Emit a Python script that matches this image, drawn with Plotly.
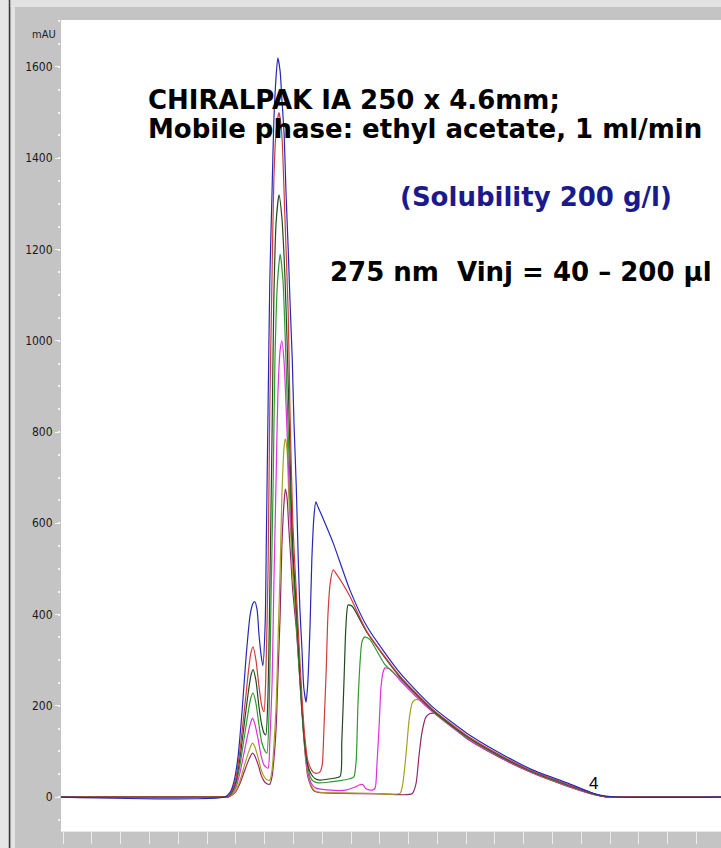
import plotly.graph_objects as go

# ---------------- data (time in min, absorbance in mAU) ----------------
t_blue = [-0.05, 2.81, 2.90, 2.97, 3.04, 3.11, 3.18, 3.25, 3.30, 3.33, 3.37, 3.40, 3.44, 3.47, 3.51, 3.53,
          3.56, 3.59, 3.63, 3.66, 3.70, 3.73, 3.77, 3.80, 3.84, 3.87, 3.91, 3.94, 3.98, 4.01, 4.05, 4.08,
          4.11, 4.15, 4.18, 4.22, 4.25, 4.29, 4.32, 4.36, 4.39, 4.43, 4.55, 4.69, 4.98, 5.28, 5.85, 6.42,
          7.01, 7.59, 8.16, 8.75, 9.15, 9.32, 9.58, 11.5]
a_blue = [0, 0, 10, 35, 90, 190, 310, 400, 425, 428, 410, 360, 310, 288, 380, 560,
          850, 1130, 1330, 1480, 1580, 1620, 1590, 1530, 1450, 1330, 1200, 1090, 960, 820, 680, 540,
          420, 320, 240, 208, 250, 380, 520, 620, 647, 635, 600, 557, 454, 373, 272, 197,
          140, 96, 59, 31, 11, 4, 0, 0]

t_red = [-0.05, 2.81, 2.86, 2.93, 3.00, 3.07, 3.14, 3.21, 3.26, 3.30, 3.35, 3.40, 3.45, 3.49, 3.52, 3.56,
         3.59, 3.63, 3.66, 3.70, 3.75, 3.80, 3.85, 3.91, 3.94, 3.99, 4.05, 4.10, 4.15, 4.20, 4.25, 4.31,
         4.36, 4.41, 4.46, 4.50, 4.53, 4.57, 4.60, 4.64, 4.69, 4.74, 4.98, 5.28, 5.85, 6.42, 7.01, 7.59,
         8.16, 8.75, 9.15, 9.41, 9.67, 11.5]
a_red = [0, 0, 0, 13, 40, 100, 180, 265, 315, 329, 300, 245, 200, 187, 260, 500,
         850, 1150, 1350, 1460, 1500, 1450, 1280, 1060, 850, 600, 450, 330, 215, 130, 80, 60,
         53, 52, 55, 70, 150, 280, 400, 470, 498, 490, 440, 362, 265, 192, 135, 92,
         56, 28, 10, 1, 0, 0]

t_dkgreen = [-0.05, 2.81, 2.86, 2.93, 3.00, 3.07, 3.14, 3.21, 3.26, 3.30, 3.35, 3.40, 3.45, 3.49, 3.52, 3.56,
             3.59, 3.63, 3.66, 3.70, 3.75, 3.80, 3.85, 3.89, 3.94, 3.99, 4.05, 4.10, 4.15, 4.20, 4.25, 4.31,
             4.38, 4.46, 4.64, 4.81, 4.84, 4.88, 4.91, 4.95, 5.02, 5.28, 5.85, 6.42, 7.01, 7.59, 8.16, 8.75,
             9.15, 9.41, 9.67, 11.5]
a_dkgreen = [0, 0, 0, 11, 33, 84, 153, 223, 265, 279, 255, 200, 158, 140, 136, 230,
             450, 800, 1090, 1260, 1320, 1270, 1150, 1000, 760, 540, 420, 300, 195, 115, 70, 50,
             40, 37, 40, 45, 120, 260, 370, 421, 418, 360, 263, 190, 133, 90, 55, 27,
             9, 1, 0, 0]

t_green = [-0.05, 2.81, 2.86, 2.93, 3.00, 3.07, 3.14, 3.21, 3.26, 3.30, 3.35, 3.40, 3.45, 3.51, 3.54, 3.58,
           3.61, 3.65, 3.68, 3.72, 3.77, 3.82, 3.87, 3.92, 3.98, 4.03, 4.08, 4.13, 4.18, 4.24, 4.29, 4.34,
           4.43, 4.64, 4.81, 4.98, 5.05, 5.09, 5.12, 5.16, 5.19, 5.24, 5.33, 5.59, 5.85, 6.42, 7.01, 7.59,
           8.16, 8.75, 9.15, 9.41, 9.67, 11.5]
a_green = [0, 0, 0, 9, 27, 68, 125, 182, 217, 228, 205, 160, 120, 100, 96, 200,
           420, 700, 960, 1120, 1190, 1130, 960, 760, 560, 430, 320, 220, 135, 75, 45, 35,
           31, 33, 36, 40, 44, 80, 200, 300, 340, 351, 345, 290, 260, 188, 131, 89,
           54, 26, 9, 1, 0, 0]

t_magenta = [-0.05, 2.81, 2.86, 2.93, 3.00, 3.07, 3.14, 3.21, 3.26, 3.29, 3.33, 3.39, 3.44, 3.49, 3.56, 3.59,
             3.63, 3.66, 3.70, 3.73, 3.77, 3.80, 3.84, 3.89, 3.94, 3.99, 4.05, 4.10, 4.15, 4.20, 4.25, 4.31,
             4.38, 4.64, 4.90, 5.07, 5.16, 5.21, 5.26, 5.37, 5.42, 5.45, 5.49, 5.52, 5.56, 5.59, 5.68, 5.85,
             6.42, 7.01, 7.59, 8.16, 8.75, 9.15, 9.41, 9.67, 11.5]
a_magenta = [0, 0, 0, 7, 21, 52, 95, 138, 164, 173, 160, 125, 90, 70, 63, 120,
             250, 460, 700, 880, 980, 1000, 950, 800, 640, 520, 410, 300, 195, 110, 55, 30,
             20, 15, 15, 22, 27, 27, 18, 15, 20, 70, 160, 240, 275, 283, 280, 256,
             186, 129, 87, 53, 25, 8, 1, 0, 0]

t_olive = [-0.05, 2.81, 2.86, 2.93, 3.00, 3.07, 3.14, 3.21, 3.26, 3.29, 3.33, 3.39, 3.44, 3.49, 3.54, 3.59,
           3.63, 3.66, 3.70, 3.73, 3.77, 3.80, 3.84, 3.86, 3.89, 3.92, 3.96, 3.99, 4.05, 4.10, 4.15, 4.20,
           4.25, 4.31, 4.36, 4.43, 4.81, 5.33, 5.85, 5.90, 5.96, 6.01, 6.06, 6.11, 6.20, 6.42, 7.01, 7.59,
           8.16, 8.75, 9.15, 9.41, 9.67, 11.5]
a_olive = [0, 0, 0, 5, 14, 35, 65, 94, 112, 118, 110, 85, 60, 45, 38, 37,
           60, 110, 200, 330, 500, 660, 770, 785, 760, 660, 560, 480, 390, 290, 190, 105,
           50, 25, 15, 11, 9, 8, 8, 30, 100, 170, 205, 213, 212, 188, 130, 88,
           53, 25, 8, 1, 0, 0]

t_purple = [-0.05, 2.81, 2.86, 2.93, 3.00, 3.07, 3.14, 3.21, 3.26, 3.29, 3.33, 3.39, 3.44, 3.49, 3.54, 3.59,
            3.63, 3.66, 3.70, 3.73, 3.77, 3.80, 3.84, 3.86, 3.89, 3.92, 3.96, 3.99, 4.05, 4.10, 4.15, 4.20,
            4.25, 4.31, 4.36, 4.43, 4.81, 5.50, 6.06, 6.13, 6.18, 6.23, 6.30, 6.37, 6.41, 6.49, 6.72, 7.01,
            7.59, 8.16, 8.75, 9.15, 9.41, 9.67, 11.5]
a_purple = [0, 0, 0, 4, 12, 29, 53, 77, 91, 96, 90, 70, 48, 35, 29, 28,
            45, 80, 150, 260, 400, 550, 650, 675, 655, 590, 510, 450, 370, 280, 185, 100,
            45, 22, 13, 10, 8, 7, 7, 30, 90, 140, 175, 183, 184, 182, 160, 128,
            86, 52, 24, 8, 1, 0, 0]

series = [
    ("200 µl", t_blue, a_blue, "#2828b8"),
    ("175 µl", t_red, a_red, "#d03c3c"),
    ("150 µl", t_dkgreen, a_dkgreen, "#214a21"),
    ("125 µl", t_green, a_green, "#2f9a2f"),
    ("100 µl", t_magenta, a_magenta, "#e030e0"),
    ("60 µl", t_olive, a_olive, "#a8a020"),
    ("40 µl", t_purple, a_purple, "#902868"),
]

y_ticks = [0, 200, 400, 600, 800, 1000, 1200, 1400, 1600]

# ---------------- layout ----------------
W, H = 721, 848
ML, MR, MT, MB = 61, 0, 20, 17
PW, PH = W - ML - MR, H - MT - MB


def px(x):
    return (x - ML) / PW


def py(y):
    return (H - MB - y) / PH


fig = go.Figure()
for name, t, a, col in reversed(series):
    fig.add_trace(go.Scatter(x=t, y=a, mode="lines", name=name,
                             line=dict(color=col, width=1.2, shape="spline", smoothing=0.6),
                             hoverinfo="skip"))

TXT = "DejaVu Sans, Liberation Sans, Arial, sans-serif"
bold = dict(family=TXT, size=26, color="black")
ann = [
    dict(text="<b>CHIRALPAK IA 250 x 4.6mm;</b>", x=px(146), y=py(100), xanchor="left", yanchor="middle",
         font=bold),
    dict(text="<b>Mobile phase: ethyl acetate, 1 ml/min</b>", x=px(146), y=py(129), xanchor="left",
         yanchor="middle", font=bold),
    dict(text="<b>(Solubility 200 g/l)</b>", x=px(398), y=py(197), xanchor="left", yanchor="middle",
         font=dict(family=TXT, size=26, color="#1a1a8c")),
    dict(text="<b>275 nm  Vinj = 40 – 200 µl</b>", x=px(328), y=py(272), xanchor="left", yanchor="middle",
         font=bold),
    dict(text="4", x=px(593), y=py(783), xanchor="center", yanchor="middle",
         font=dict(family="Liberation Sans, Arial, sans-serif", size=17, color="black")),
    dict(text="mAU", x=px(44), y=py(35), xanchor="center", yanchor="middle",
         font=dict(family="Liberation Sans Narrow, Arial Narrow, DejaVu Sans Condensed, sans-serif",
                   size=11, color="#222222")),
]
for a in ann:
    a.update(xref="paper", yref="paper", showarrow=False)

shapes = [
    dict(type="rect", xref="paper", yref="paper", x0=px(0), x1=px(9), y0=py(H), y1=py(0),
         fillcolor="#e6e6e6", line=dict(width=0), layer="below"),
    dict(type="line", xref="paper", yref="paper", x0=px(9.5), x1=px(9.5), y0=py(H), y1=py(0),
         line=dict(color="#3a3a3a", width=1.5)),
    dict(type="rect", xref="paper", yref="paper", x0=px(11), x1=px(15), y0=py(H), y1=py(0),
         fillcolor="#e2e2e2", line=dict(width=0), layer="below"),
    dict(type="rect", xref="paper", yref="paper", x0=px(10), x1=px(W), y0=py(7), y1=py(0),
         fillcolor="#e2e2e2", line=dict(width=0), layer="below"),
]

fig.update_layout(
    width=W, height=H,
    margin=dict(l=ML, r=MR, t=MT, b=MB, pad=0),
    paper_bgcolor="#c4c4c4",
    plot_bgcolor="white",
    showlegend=False,
    annotations=ann,
    shapes=shapes,
    xaxis=dict(range=[-0.035, 11.424], showgrid=False, zeroline=False, showticklabels=False,
               ticks="outside", tick0=0, dtick=0.5, ticklen=12, tickcolor="#ececec", tickwidth=1,
               showline=True, linecolor="#e8e8e8", linewidth=1),
    yaxis=dict(range=[-74.5, 1703], showgrid=False, zeroline=False,
               tickmode="array", tickvals=y_ticks, ticktext=[str(v) for v in y_ticks],
               ticks="outside", ticklen=5, tickcolor="#f4f4f4", tickwidth=1,
               tickfont=dict(family="Liberation Sans Narrow, Arial Narrow, DejaVu Sans Condensed, sans-serif",
                             size=12, color="#1a1a1a"),
               minor=dict(tickmode="linear", tick0=0, dtick=50, ticks="outside", ticklen=2,
                          tickcolor="#f4f4f4", tickwidth=1.5),
               showline=False),
)

fig.write_html("out.html", config={"displayModeBar": False})
